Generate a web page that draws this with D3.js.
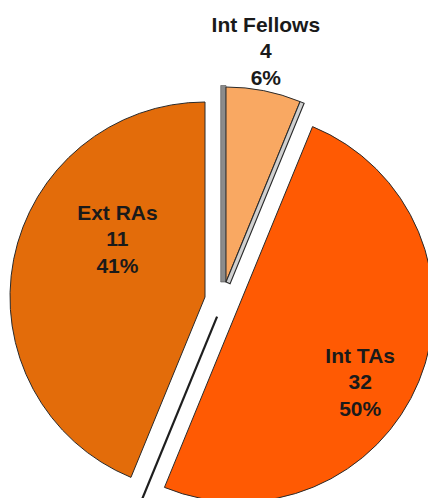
<!DOCTYPE html>
<html lang="en">
<head>
  <meta charset="utf-8">
  <title>Staff mix pie</title>
  <script src="https://d3js.org/d3.v7.min.js"></script>
  <style>
    body {
      margin: 0;
      background: #fff;
      font-family: "Liberation Sans", Arial, sans-serif;
    }
    .lbl {
      font-size: 21px;
      font-weight: bold;
      fill: #1a1a1a;
      text-anchor: middle;
    }
    .slice {
      stroke: #2a2a2a;
      stroke-width: 1;
    }
  </style>
</head>
<body>
  <div id="chart"></div>
  <script>
    // Data
    const categories = ["Int Fellows", "Int TAs", "Ext RAs"];
    const counts = [4, 32, 11];
    const percentLabels = ["6%", "50%", "41%"];
    // slice sizes, estimated from the drawn angles
    const shares = [6.2, 50, 43.8];

    const colors = ["#f9a862", "#ff5a03", "#e36c0a"];

    // Layout
    const width = 428, height = 498;
    const radius = 195;
    const cx = 222, cy = 294;
    // exploded offset of each slice from the centre
    const explode = [[4, -12], [16.5, 13], [-17, 3]];
    // label anchor relative to each slice apex (angle in degrees, distance)
    const labelPos = [[9.8, 234], [121.7, 143], [303.5, 105]];
    const lineGap = 26.5;

    const svg = d3.select("#chart")
      .append("svg")
      .attr("width", width)
      .attr("height", height);

    const pie = d3.pie().sort(null).value(d => d);
    const arcs = pie(shares);

    const arc = d3.arc()
      .innerRadius(0)
      .outerRadius(radius);

    const polar = (deg, r) => {
      const a = deg * Math.PI / 180;
      return [Math.sin(a) * r, -Math.cos(a) * r];
    };

    const groups = svg.selectAll("g.slice-g")
      .data(arcs)
      .enter()
      .append("g")
      .attr("class", "slice-g")
      .attr("transform", (d, i) => `translate(${cx + explode[i][0]},${cy + explode[i][1]})`);

    // side face on the left of the small slice
    const small = arcs[0];
    const sideW = 5.3;
    {
      const a = small.startAngle;
      const u = [Math.sin(a), -Math.cos(a)];
      const n = [-Math.cos(a), -Math.sin(a)];
      const pts = [
        [0, 0],
        [u[0] * (radius + 1.5), u[1] * (radius + 1.5)],
        [u[0] * (radius + 1.5) + n[0] * sideW, u[1] * (radius + 1.5) + n[1] * sideW],
        [n[0] * sideW, n[1] * sideW]
      ];
      groups.filter((d, i) => i === 0)
        .append("path")
        .attr("d", "M" + pts.join("L") + "Z")
        .attr("fill", "#8b8b8b")
        .attr("stroke", "#555")
        .attr("stroke-width", 0.6);
    }

    groups.append("path")
      .attr("class", "slice")
      .attr("d", arc)
      .attr("fill", (d, i) => colors[i]);

    // thin side face on the right edge of the small slice
    {
      const a = small.endAngle;
      const u = [Math.sin(a), -Math.cos(a)];
      const n = [Math.cos(a), Math.sin(a)];
      const w = 4.4;
      const pts = [
        [0, 0],
        [u[0] * radius, u[1] * radius],
        [u[0] * radius + n[0] * w, u[1] * radius + n[1] * w],
        [n[0] * w, n[1] * w]
      ];
      groups.filter((d, i) => i === 0)
        .append("path")
        .attr("d", "M" + pts.join("L") + "Z")
        .attr("fill", "#d0d0d0")
        .attr("stroke", "#2a2a2a")
        .attr("stroke-width", 1.1);
    }

    // edge line left in the gap beside the big slice
    {
      const a = arcs[1].endAngle;
      const u = [Math.sin(a), -Math.cos(a)];
      const n = [Math.cos(a), Math.sin(a)];
      const off = 16.2;
      const p0 = [n[0] * off + u[0] * 17, n[1] * off + u[1] * 17];
      const p1 = [n[0] * off + u[0] * (radius + 40), n[1] * off + u[1] * (radius + 40)];
      groups.filter((d, i) => i === 1)
        .append("line")
        .attr("x1", p0[0]).attr("y1", p0[1])
        .attr("x2", p1[0]).attr("y2", p1[1])
        .attr("stroke", "#1e1e1e")
        .attr("stroke-width", 2.2);
    }

    // labels
    groups.each(function(d, i) {
      const [lx, ly] = polar(labelPos[i][0], labelPos[i][1]);
      const t = d3.select(this).append("text")
        .attr("class", "lbl")
        .attr("transform", `translate(${lx},${ly + 7})`);
      [categories[i], counts[i], percentLabels[i]].forEach((s, k) => {
        t.append("tspan")
          .attr("x", 0)
          .attr("y", (k - 1) * lineGap)
          .text(s);
      });
    });
  </script>
</body>
</html>
